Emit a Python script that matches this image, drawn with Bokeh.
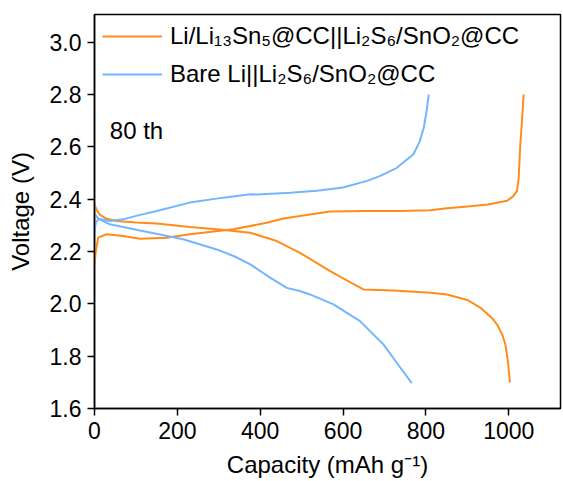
from bokeh.plotting import figure
from bokeh.models import Range1d, Legend, LegendItem, Label, PrintfTickFormatter
from bokeh.embed import file_html
from bokeh.resources import INLINE

# Li/Li13Sn5@CC||Li2S6/SnO2@CC (orange)
sn_charge_cap = [0, 3, 9, 29, 69, 110, 174, 230, 335, 416, 456, 496, 569, 650, 738, 811, 851,
                 900, 950, 996, 1010, 1020, 1024, 1028, 1032, 1036]
sn_charge_v = [2.15, 2.20, 2.253, 2.266, 2.259, 2.249, 2.253, 2.266, 2.285, 2.310, 2.326, 2.336,
               2.353, 2.355, 2.355, 2.358, 2.365, 2.372, 2.380, 2.394, 2.410, 2.432, 2.48, 2.61, 2.70, 2.80]
sn_dis_cap = [0, 5, 13, 30, 53, 100, 150, 230, 295, 376, 440, 496, 569, 620, 649, 722, 811, 851,
              900, 932, 960, 972, 985, 992, 998, 1003]
sn_dis_v = [2.38, 2.36, 2.34, 2.325, 2.317, 2.311, 2.307, 2.294, 2.285, 2.272, 2.240, 2.195,
            2.125, 2.08, 2.055, 2.051, 2.042, 2.036, 2.015, 1.985, 1.945, 1.921, 1.88, 1.844, 1.78, 1.70]

# Bare Li||Li2S6/SnO2@CC (blue)
bare_charge_cap = [0, 3, 10, 37, 69, 110, 150, 230, 311, 376, 392, 472, 537, 600, 658, 690, 730, 770,
                   785, 795, 802, 807]
bare_charge_v = [2.27, 2.31, 2.325, 2.317, 2.323, 2.34, 2.355, 2.387, 2.406, 2.419, 2.418, 2.425, 2.432,
                 2.445, 2.470, 2.489, 2.52, 2.572, 2.62, 2.674, 2.74, 2.80]
bare_dis_cap = [0, 10, 37, 110, 214, 295, 340, 376, 424, 464, 496, 520, 577, 641, 698, 730, 766]
bare_dis_v = [2.345, 2.325, 2.304, 2.28, 2.247, 2.208, 2.18, 2.151, 2.100, 2.061, 2.049, 2.036,
              1.998, 1.934, 1.844, 1.774, 1.697]

x_ticks = [0, 200, 400, 600, 800, 1000]
y_ticks = [1.6, 1.8, 2.0, 2.2, 2.4, 2.6, 2.8, 3.0]

label_sn = "Li/Li\u2081\u2083Sn\u2085@CC||Li\u2082S\u2086/SnO\u2082@CC"
label_bare = "Bare Li||Li\u2082S\u2086/SnO\u2082@CC"
cycle_text = "80 th"

ORANGE = "#ff8c1a"
BLUE = "#72b6ff"
FONT = "Liberation Sans"

p = figure(width=563, height=481, output_backend="svg", toolbar_location=None,
           x_range=Range1d(0, 1125), y_range=Range1d(1.6, 3.106),
           min_border_left=94, min_border_right=3, min_border_top=14, min_border_bottom=73)
p.background_fill_color = "white"
p.border_fill_color = "white"
p.outline_line_color = "black"
p.outline_line_width = 1.5
p.grid.visible = False

r1 = p.line(sn_charge_cap, sn_charge_v, line_color=ORANGE, line_width=2)
p.line(sn_dis_cap, sn_dis_v, line_color=ORANGE, line_width=2)
r2 = p.line(bare_charge_cap, bare_charge_v, line_color=BLUE, line_width=2)
p.line(bare_dis_cap, bare_dis_v, line_color=BLUE, line_width=2)

for ax in (p.xaxis[0], p.yaxis[0]):
    ax.axis_line_color = "black"
    ax.axis_line_width = 1.5
    ax.major_tick_line_color = "black"
    ax.major_tick_line_width = 1.5
    ax.major_tick_in = 0
    ax.major_tick_out = 7
    ax.minor_tick_line_color = None
    ax.major_label_text_font = FONT
    ax.major_label_text_font_size = "23px"
    ax.major_label_text_color = "black"
    ax.axis_label_text_font = FONT
    ax.axis_label_text_font_size = "24px"
    ax.axis_label_text_font_style = "normal"
    ax.axis_label_text_color = "black"
    ax.major_label_standoff = 6

p.xaxis.ticker = x_ticks
p.yaxis.ticker = y_ticks
p.yaxis.formatter = PrintfTickFormatter(format="%.1f")
p.xaxis.axis_label = "Capacity (mAh g\u207b\u00b9)"
p.yaxis.axis_label = "Voltage (V)"
p.xaxis.axis_label_standoff = 9
p.yaxis.axis_label_standoff = 13

legend = Legend(items=[LegendItem(label=label_sn, renderers=[r1]),
                       LegendItem(label=label_bare, renderers=[r2])],
                location="top_left", border_line_color=None, background_fill_alpha=0,
                margin=8, padding=8, spacing=10, glyph_width=60, glyph_height=24,
                label_height=24, label_standoff=8,
                label_text_font=FONT, label_text_font_size="24px", label_text_color="black")
p.add_layout(legend)

p.add_layout(Label(x=37, y=2.662, text=cycle_text, text_baseline="middle",
                   text_font=FONT, text_font_size="24px", text_color="black"))

open("out.html", "w").write(file_html(p, INLINE))
